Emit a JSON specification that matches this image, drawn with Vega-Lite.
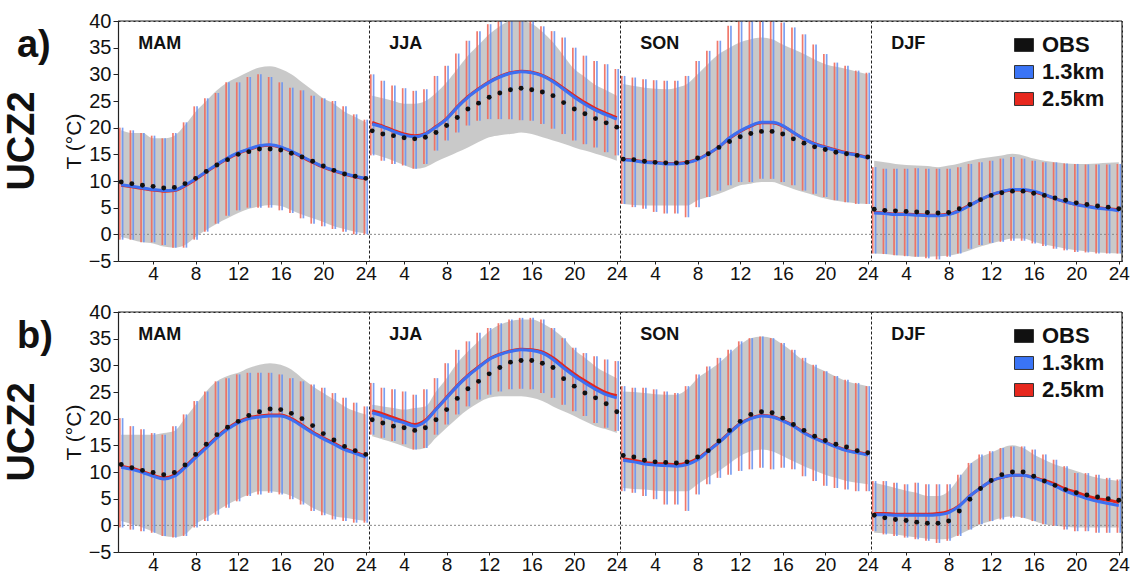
{
"$schema": "https://vega.github.io/schema/vega-lite/v6.json",
"background": "white",
"padding": {"left": 4, "top": 11, "right": 2, "bottom": 0},
"config": {
  "font": "Liberation Sans",
  "view": {"stroke": "#222222", "strokeDash": [2, 3], "strokeWidth": 1},
  "axis": {"labelFont": "Liberation Sans", "labelColor": "#111111", "domainColor": "#222222", "tickColor": "#222222", "grid": false, "titleFont": "Liberation Sans", "titleColor": "#111111", "labelOverlap": false},
  "axisY": {"labelOverlap": false, "labelSeparation": 0}
},
"datasets": {"d": [
{"p":"a)","s":"MAM","h":1,"o":9.8,"ol":-0.5,"oh":19.5,"b":9.3,"r":9.2,"ml":-1,"mh":20},
{"p":"a)","s":"MAM","h":2,"o":9.5,"ol":-1,"oh":19,"b":9.0,"r":8.9,"ml":-1,"mh":19.5},
{"p":"a)","s":"MAM","h":3,"o":9.2,"ol":-1.5,"oh":19,"b":8.7,"r":8.6,"ml":-1.5,"mh":19},
{"p":"a)","s":"MAM","h":4,"o":9.0,"ol":-1.7,"oh":18,"b":8.4,"r":8.3,"ml":-1.5,"mh":18.5},
{"p":"a)","s":"MAM","h":5,"o":8.7,"ol":-2.3,"oh":18,"b":8.2,"r":8.1,"ml":-2,"mh":18},
{"p":"a)","s":"MAM","h":6,"o":8.8,"ol":-2.5,"oh":18.5,"b":8.3,"r":8.2,"ml":-2.5,"mh":19},
{"p":"a)","s":"MAM","h":7,"o":9.5,"ol":-2,"oh":20.5,"b":9.2,"r":9.1,"ml":-2.5,"mh":21},
{"p":"a)","s":"MAM","h":8,"o":10.5,"ol":-0.5,"oh":23,"b":10.4,"r":10.3,"ml":-1,"mh":24},
{"p":"a)","s":"MAM","h":9,"o":11.8,"ol":0.8,"oh":25,"b":11.8,"r":11.7,"ml":0.5,"mh":25.5},
{"p":"a)","s":"MAM","h":10,"o":13,"ol":2,"oh":27,"b":13.1,"r":13,"ml":2,"mh":26.5},
{"p":"a)","s":"MAM","h":11,"o":14,"ol":3,"oh":28.5,"b":14.3,"r":14.2,"ml":3.5,"mh":28.5},
{"p":"a)","s":"MAM","h":12,"o":15,"ol":4,"oh":29.5,"b":15.3,"r":15.2,"ml":4.5,"mh":28.5},
{"p":"a)","s":"MAM","h":13,"o":15.5,"ol":4.8,"oh":30.5,"b":16,"r":15.9,"ml":5,"mh":29.5},
{"p":"a)","s":"MAM","h":14,"o":16,"ol":5.2,"oh":31.3,"b":16.6,"r":16.5,"ml":5,"mh":30},
{"p":"a)","s":"MAM","h":15,"o":16,"ol":5.5,"oh":31.5,"b":16.8,"r":16.7,"ml":5,"mh":29.5},
{"p":"a)","s":"MAM","h":16,"o":15.8,"ol":5.3,"oh":31,"b":16.4,"r":16.3,"ml":4.5,"mh":28.5},
{"p":"a)","s":"MAM","h":17,"o":15.2,"ol":4.5,"oh":30,"b":15.6,"r":15.5,"ml":4,"mh":27.5},
{"p":"a)","s":"MAM","h":18,"o":14.5,"ol":3.7,"oh":28.5,"b":14.6,"r":14.5,"ml":3,"mh":27},
{"p":"a)","s":"MAM","h":19,"o":13.7,"ol":3,"oh":27,"b":13.6,"r":13.5,"ml":2,"mh":26},
{"p":"a)","s":"MAM","h":20,"o":12.8,"ol":2.3,"oh":25.5,"b":12.7,"r":12.6,"ml":1.5,"mh":25.5},
{"p":"a)","s":"MAM","h":21,"o":12,"ol":1.5,"oh":24.5,"b":12,"r":11.9,"ml":1,"mh":25},
{"p":"a)","s":"MAM","h":22,"o":11.3,"ol":1,"oh":23,"b":11.4,"r":11.3,"ml":0.5,"mh":24},
{"p":"a)","s":"MAM","h":23,"o":10.9,"ol":0.5,"oh":22,"b":10.9,"r":10.8,"ml":0,"mh":22.5},
{"p":"a)","s":"MAM","h":24,"o":10.5,"ol":0.2,"oh":21,"b":10.5,"r":10.4,"ml":0,"mh":21.5},
{"p":"a)","s":"JJA","h":1,"o":19.4,"ol":15.1,"oh":26,"b":20.7,"r":21,"ml":14.8,"mh":30},
{"p":"a)","s":"JJA","h":2,"o":18.8,"ol":14.5,"oh":25.5,"b":20.1,"r":20.3,"ml":13.8,"mh":28.8},
{"p":"a)","s":"JJA","h":3,"o":18.5,"ol":13.8,"oh":25,"b":19.3,"r":19.5,"ml":13.2,"mh":27.9},
{"p":"a)","s":"JJA","h":4,"o":18.1,"ol":13,"oh":24.5,"b":18.6,"r":18.8,"ml":12.9,"mh":27.4},
{"p":"a)","s":"JJA","h":5,"o":17.9,"ol":12.3,"oh":24.5,"b":18.3,"r":18.5,"ml":12.3,"mh":26.9},
{"p":"a)","s":"JJA","h":6,"o":18.2,"ol":12.6,"oh":25,"b":18.8,"r":18.9,"ml":13.2,"mh":27.2},
{"p":"a)","s":"JJA","h":7,"o":19.1,"ol":13.6,"oh":26.5,"b":20.1,"r":20.2,"ml":15.7,"mh":29.7},
{"p":"a)","s":"JJA","h":8,"o":20.4,"ol":14.5,"oh":28.5,"b":21.6,"r":21.7,"ml":17.6,"mh":31.6},
{"p":"a)","s":"JJA","h":9,"o":21.9,"ol":15.4,"oh":31,"b":23.8,"r":23.9,"ml":19.1,"mh":33.9},
{"p":"a)","s":"JJA","h":10,"o":23.5,"ol":16.3,"oh":33.5,"b":25.7,"r":25.8,"ml":20.4,"mh":36.3},
{"p":"a)","s":"JJA","h":11,"o":24.6,"ol":17.3,"oh":35.5,"b":27.2,"r":27.3,"ml":21.3,"mh":38.1},
{"p":"a)","s":"JJA","h":12,"o":25.7,"ol":18.2,"oh":37.5,"b":28.5,"r":28.6,"ml":21.6,"mh":39.4},
{"p":"a)","s":"JJA","h":13,"o":26.5,"ol":18.6,"oh":39,"b":29.5,"r":29.6,"ml":21.6,"mh":40},
{"p":"a)","s":"JJA","h":14,"o":27.1,"ol":18.8,"oh":40,"b":30.2,"r":30.3,"ml":21.6,"mh":40},
{"p":"a)","s":"JJA","h":15,"o":27.4,"ol":19.1,"oh":40,"b":30.5,"r":30.6,"ml":21.4,"mh":40},
{"p":"a)","s":"JJA","h":16,"o":27.1,"ol":18.8,"oh":39.5,"b":30.3,"r":30.4,"ml":21.3,"mh":40},
{"p":"a)","s":"JJA","h":17,"o":26.7,"ol":18.2,"oh":38,"b":29.7,"r":29.8,"ml":20.7,"mh":39},
{"p":"a)","s":"JJA","h":18,"o":26,"ol":17.6,"oh":36,"b":28.6,"r":28.8,"ml":19.8,"mh":38.1},
{"p":"a)","s":"JJA","h":19,"o":24.7,"ol":17,"oh":33.5,"b":27.2,"r":27.4,"ml":18.8,"mh":36.9},
{"p":"a)","s":"JJA","h":20,"o":23.5,"ol":16.3,"oh":31,"b":25.7,"r":26,"ml":17.6,"mh":35},
{"p":"a)","s":"JJA","h":21,"o":22.6,"ol":15.7,"oh":29.5,"b":24.4,"r":24.7,"ml":16.9,"mh":33.5},
{"p":"a)","s":"JJA","h":22,"o":21.7,"ol":15.1,"oh":28,"b":23.3,"r":23.6,"ml":16.3,"mh":32.5},
{"p":"a)","s":"JJA","h":23,"o":20.9,"ol":14.5,"oh":27,"b":22.4,"r":22.7,"ml":15.4,"mh":31.9},
{"p":"a)","s":"JJA","h":24,"o":20.1,"ol":13.8,"oh":26,"b":21.6,"r":21.9,"ml":14.8,"mh":31},
{"p":"a)","s":"SON","h":1,"o":14.1,"ol":5.7,"oh":28.2,"b":14,"r":14.1,"ml":5.7,"mh":29.7},
{"p":"a)","s":"SON","h":2,"o":14,"ol":5.5,"oh":27.8,"b":13.8,"r":13.9,"ml":5.1,"mh":29.4},
{"p":"a)","s":"SON","h":3,"o":13.7,"ol":5.4,"oh":27.5,"b":13.5,"r":13.6,"ml":4.8,"mh":29.1},
{"p":"a)","s":"SON","h":4,"o":13.5,"ol":5.4,"oh":27.3,"b":13.4,"r":13.5,"ml":4.2,"mh":28.9},
{"p":"a)","s":"SON","h":5,"o":13.4,"ol":5.4,"oh":27.2,"b":13.2,"r":13.3,"ml":3.9,"mh":28.8},
{"p":"a)","s":"SON","h":6,"o":13.4,"ol":5.4,"oh":27.5,"b":13.2,"r":13.3,"ml":3.9,"mh":28.8},
{"p":"a)","s":"SON","h":7,"o":13.5,"ol":5.4,"oh":28.2,"b":13.4,"r":13.5,"ml":3.2,"mh":29.7},
{"p":"a)","s":"SON","h":8,"o":14.3,"ol":6.4,"oh":30,"b":14,"r":14.1,"ml":5.1,"mh":32.5},
{"p":"a)","s":"SON","h":9,"o":15.1,"ol":7,"oh":32,"b":15.1,"r":15.1,"ml":7,"mh":34.4},
{"p":"a)","s":"SON","h":10,"o":16.3,"ol":7.6,"oh":33.8,"b":16.4,"r":16.4,"ml":8.2,"mh":36.3},
{"p":"a)","s":"SON","h":11,"o":17.4,"ol":8.4,"oh":35,"b":18.1,"r":18,"ml":9.2,"mh":39.1},
{"p":"a)","s":"SON","h":12,"o":18.3,"ol":9.2,"oh":36,"b":19.4,"r":19.3,"ml":9.8,"mh":40},
{"p":"a)","s":"SON","h":13,"o":18.9,"ol":9.5,"oh":36.6,"b":20.4,"r":20.3,"ml":9.8,"mh":40},
{"p":"a)","s":"SON","h":14,"o":19.3,"ol":9.8,"oh":36.9,"b":21,"r":20.9,"ml":10.4,"mh":40},
{"p":"a)","s":"SON","h":15,"o":19.3,"ol":9.8,"oh":36.6,"b":21,"r":20.9,"ml":10.4,"mh":40},
{"p":"a)","s":"SON","h":16,"o":18.8,"ol":9.2,"oh":35.6,"b":20.4,"r":20.3,"ml":9.8,"mh":39.7},
{"p":"a)","s":"SON","h":17,"o":17.9,"ol":8.5,"oh":34.7,"b":19.1,"r":19.1,"ml":9.2,"mh":38.8},
{"p":"a)","s":"SON","h":18,"o":17.1,"ol":7.9,"oh":33.8,"b":17.9,"r":17.9,"ml":8.2,"mh":37.5},
{"p":"a)","s":"SON","h":19,"o":16.4,"ol":7.3,"oh":32.8,"b":16.9,"r":17,"ml":7.6,"mh":35.6},
{"p":"a)","s":"SON","h":20,"o":15.9,"ol":6.7,"oh":31.9,"b":16.3,"r":16.4,"ml":7,"mh":33.8},
{"p":"a)","s":"SON","h":21,"o":15.4,"ol":6.3,"oh":31.4,"b":15.7,"r":15.8,"ml":6.4,"mh":32.2},
{"p":"a)","s":"SON","h":22,"o":15.1,"ol":6,"oh":31,"b":15.2,"r":15.3,"ml":6,"mh":31.6},
{"p":"a)","s":"SON","h":23,"o":14.8,"ol":5.8,"oh":30.5,"b":14.8,"r":14.9,"ml":5.7,"mh":30.7},
{"p":"a)","s":"SON","h":24,"o":14.5,"ol":5.7,"oh":30,"b":14.3,"r":14.4,"ml":5.7,"mh":30.3},
{"p":"a)","s":"DJF","h":1,"o":4.7,"ol":-3.6,"oh":13.8,"b":4,"r":4.1,"ml":-3.6,"mh":12.6},
{"p":"a)","s":"DJF","h":2,"o":4.5,"ol":-3.7,"oh":13.5,"b":3.9,"r":4,"ml":-3.7,"mh":12.3},
{"p":"a)","s":"DJF","h":3,"o":4.4,"ol":-3.9,"oh":13.2,"b":3.7,"r":3.8,"ml":-3.9,"mh":12.3},
{"p":"a)","s":"DJF","h":4,"o":4.3,"ol":-4,"oh":13,"b":3.7,"r":3.8,"ml":-4.1,"mh":12.3},
{"p":"a)","s":"DJF","h":5,"o":4.2,"ol":-4.2,"oh":12.9,"b":3.6,"r":3.7,"ml":-4.2,"mh":12.4},
{"p":"a)","s":"DJF","h":6,"o":4.1,"ol":-4.2,"oh":12.8,"b":3.5,"r":3.6,"ml":-4.5,"mh":12.3},
{"p":"a)","s":"DJF","h":7,"o":4,"ol":-4.1,"oh":12.6,"b":3.5,"r":3.6,"ml":-4.7,"mh":12.3},
{"p":"a)","s":"DJF","h":8,"o":4.1,"ol":-4,"oh":12.9,"b":3.7,"r":3.8,"ml":-4.2,"mh":12.3},
{"p":"a)","s":"DJF","h":9,"o":4.8,"ol":-3.6,"oh":13.3,"b":4.4,"r":4.5,"ml":-3.6,"mh":12.6},
{"p":"a)","s":"DJF","h":10,"o":5.6,"ol":-3,"oh":13.8,"b":5.4,"r":5.5,"ml":-2.7,"mh":13.2},
{"p":"a)","s":"DJF","h":11,"o":6.5,"ol":-2.3,"oh":14.2,"b":6.5,"r":6.5,"ml":-2,"mh":13.5},
{"p":"a)","s":"DJF","h":12,"o":7.3,"ol":-1.7,"oh":14.5,"b":7.4,"r":7.4,"ml":-1.6,"mh":13.8},
{"p":"a)","s":"DJF","h":13,"o":7.8,"ol":-1.2,"oh":14.8,"b":8,"r":8,"ml":-1.4,"mh":14.2},
{"p":"a)","s":"DJF","h":14,"o":8.1,"ol":-0.8,"oh":15.1,"b":8.4,"r":8.3,"ml":-1.2,"mh":14.5},
{"p":"a)","s":"DJF","h":15,"o":8.1,"ol":-0.8,"oh":14.8,"b":8.4,"r":8.3,"ml":-1.2,"mh":14.2},
{"p":"a)","s":"DJF","h":16,"o":7.7,"ol":-1.4,"oh":14.2,"b":8.1,"r":8,"ml":-1.7,"mh":13.8},
{"p":"a)","s":"DJF","h":17,"o":7.3,"ol":-1.9,"oh":13.8,"b":7.5,"r":7.4,"ml":-2.2,"mh":13.5},
{"p":"a)","s":"DJF","h":18,"o":6.8,"ol":-2.3,"oh":13.5,"b":6.7,"r":6.7,"ml":-2.7,"mh":13.5},
{"p":"a)","s":"DJF","h":19,"o":6.4,"ol":-2.7,"oh":13.3,"b":6.1,"r":6.1,"ml":-3,"mh":13.3},
{"p":"a)","s":"DJF","h":20,"o":5.9,"ol":-3,"oh":13.2,"b":5.6,"r":5.6,"ml":-3.3,"mh":13.2},
{"p":"a)","s":"DJF","h":21,"o":5.6,"ol":-3.2,"oh":13.2,"b":5.2,"r":5.3,"ml":-3.4,"mh":13.1},
{"p":"a)","s":"DJF","h":22,"o":5.3,"ol":-3.4,"oh":13.3,"b":4.9,"r":5,"ml":-3.6,"mh":13.1},
{"p":"a)","s":"DJF","h":23,"o":5.1,"ol":-3.5,"oh":13.4,"b":4.7,"r":4.8,"ml":-3.6,"mh":13.1},
{"p":"a)","s":"DJF","h":24,"o":4.8,"ol":-3.6,"oh":13.5,"b":4.4,"r":4.6,"ml":-3.6,"mh":13.2},
{"p":"b)","s":"MAM","h":1,"o":11.4,"ol":0.8,"oh":17,"b":10.9,"r":11.1,"ml":-0.4,"mh":20.1},
{"p":"b)","s":"MAM","h":2,"o":10.8,"ol":0.2,"oh":17,"b":10.5,"r":10.7,"ml":-0.8,"mh":18.6},
{"p":"b)","s":"MAM","h":3,"o":10.3,"ol":-0.4,"oh":17,"b":9.9,"r":10.1,"ml":-1.1,"mh":18},
{"p":"b)","s":"MAM","h":4,"o":9.9,"ol":-1.2,"oh":17,"b":9.2,"r":9.4,"ml":-1.4,"mh":17.3},
{"p":"b)","s":"MAM","h":5,"o":9.5,"ol":-2,"oh":17.3,"b":8.7,"r":8.9,"ml":-2,"mh":17},
{"p":"b)","s":"MAM","h":6,"o":9.9,"ol":-2.2,"oh":17.7,"b":9.2,"r":9.4,"ml":-2.3,"mh":18.6},
{"p":"b)","s":"MAM","h":7,"o":11.3,"ol":-1.7,"oh":20.1,"b":10.8,"r":11,"ml":-2,"mh":20.8},
{"p":"b)","s":"MAM","h":8,"o":13.3,"ol":0.2,"oh":22.6,"b":12.7,"r":12.9,"ml":-0.4,"mh":23.3},
{"p":"b)","s":"MAM","h":9,"o":15.2,"ol":1.4,"oh":25.1,"b":14.5,"r":14.7,"ml":0.8,"mh":25.1},
{"p":"b)","s":"MAM","h":10,"o":17,"ol":2.7,"oh":27,"b":16.4,"r":16.6,"ml":2,"mh":27},
{"p":"b)","s":"MAM","h":11,"o":18.4,"ol":3.9,"oh":28,"b":18,"r":18.2,"ml":3.3,"mh":27.6},
{"p":"b)","s":"MAM","h":12,"o":19.5,"ol":4.9,"oh":28.6,"b":19.2,"r":19.4,"ml":4.5,"mh":28.3},
{"p":"b)","s":"MAM","h":13,"o":20.6,"ol":5.8,"oh":29.5,"b":20,"r":20.2,"ml":5.5,"mh":28.6},
{"p":"b)","s":"MAM","h":14,"o":21.3,"ol":6.4,"oh":30.1,"b":20.3,"r":20.5,"ml":5.8,"mh":28.6},
{"p":"b)","s":"MAM","h":15,"o":21.8,"ol":6.4,"oh":30.4,"b":20.5,"r":20.7,"ml":6.1,"mh":28.6},
{"p":"b)","s":"MAM","h":16,"o":21.7,"ol":6.1,"oh":30.1,"b":20.5,"r":20.7,"ml":5.8,"mh":28.3},
{"p":"b)","s":"MAM","h":17,"o":21,"ol":5.5,"oh":29.2,"b":19.8,"r":20,"ml":4.9,"mh":27.6},
{"p":"b)","s":"MAM","h":18,"o":20,"ol":4.5,"oh":27.6,"b":18.6,"r":18.8,"ml":3.9,"mh":27},
{"p":"b)","s":"MAM","h":19,"o":18.7,"ol":3.3,"oh":26.1,"b":17.3,"r":17.5,"ml":2.7,"mh":26.4},
{"p":"b)","s":"MAM","h":20,"o":17.2,"ol":2.4,"oh":24.8,"b":16.2,"r":16.4,"ml":1.9,"mh":25.8},
{"p":"b)","s":"MAM","h":21,"o":16,"ol":1.7,"oh":23.6,"b":15.2,"r":15.4,"ml":1.1,"mh":24.8},
{"p":"b)","s":"MAM","h":22,"o":14.8,"ol":1.4,"oh":22.3,"b":14.2,"r":14.4,"ml":0.8,"mh":23.9},
{"p":"b)","s":"MAM","h":23,"o":14,"ol":1.1,"oh":21.4,"b":13.5,"r":13.7,"ml":0.5,"mh":23},
{"p":"b)","s":"MAM","h":24,"o":13.3,"ol":0.8,"oh":20.8,"b":12.8,"r":13,"ml":0.5,"mh":22.3},
{"p":"b)","s":"JJA","h":1,"o":19.8,"ol":16.7,"oh":22.6,"b":21.1,"r":21.5,"ml":17,"mh":26.7},
{"p":"b)","s":"JJA","h":2,"o":19.2,"ol":16.1,"oh":22.3,"b":20.5,"r":20.9,"ml":16.4,"mh":25.8},
{"p":"b)","s":"JJA","h":3,"o":18.6,"ol":15.5,"oh":22,"b":19.8,"r":20.2,"ml":15.8,"mh":25.5},
{"p":"b)","s":"JJA","h":4,"o":18.3,"ol":14.8,"oh":21.7,"b":19.2,"r":19.5,"ml":15.2,"mh":25.1},
{"p":"b)","s":"JJA","h":5,"o":17.8,"ol":14.2,"oh":22,"b":18.6,"r":18.9,"ml":14.2,"mh":24.5},
{"p":"b)","s":"JJA","h":6,"o":18.3,"ol":14.5,"oh":22.3,"b":19.5,"r":19.7,"ml":14.5,"mh":25.5},
{"p":"b)","s":"JJA","h":7,"o":19.8,"ol":16.4,"oh":25.1,"b":21.7,"r":21.8,"ml":17,"mh":27.6},
{"p":"b)","s":"JJA","h":8,"o":21.7,"ol":18.3,"oh":27.6,"b":23.9,"r":24,"ml":18.9,"mh":30.4},
{"p":"b)","s":"JJA","h":9,"o":23.8,"ol":20.1,"oh":30.4,"b":26.1,"r":26.2,"ml":20.8,"mh":32.9},
{"p":"b)","s":"JJA","h":10,"o":25.6,"ol":21.7,"oh":32.6,"b":28,"r":28.1,"ml":22.3,"mh":34.5},
{"p":"b)","s":"JJA","h":11,"o":27,"ol":23,"oh":34.5,"b":29.6,"r":29.7,"ml":23.6,"mh":36.1},
{"p":"b)","s":"JJA","h":12,"o":28.4,"ol":23.9,"oh":36.4,"b":31.1,"r":31.2,"ml":24.5,"mh":37},
{"p":"b)","s":"JJA","h":13,"o":29.6,"ol":24.2,"oh":37.6,"b":32,"r":32.1,"ml":25.1,"mh":37.9},
{"p":"b)","s":"JJA","h":14,"o":30.6,"ol":24.2,"oh":38.3,"b":32.6,"r":32.7,"ml":25.5,"mh":38.6},
{"p":"b)","s":"JJA","h":15,"o":30.9,"ol":24.2,"oh":38.6,"b":32.9,"r":33,"ml":25.6,"mh":38.9},
{"p":"b)","s":"JJA","h":16,"o":30.9,"ol":23.9,"oh":38.6,"b":32.8,"r":32.9,"ml":25.5,"mh":38.9},
{"p":"b)","s":"JJA","h":17,"o":30.4,"ol":23.3,"oh":37.9,"b":32.3,"r":32.5,"ml":24.8,"mh":38.6},
{"p":"b)","s":"JJA","h":18,"o":29.6,"ol":22.3,"oh":36.7,"b":31.1,"r":31.4,"ml":23.9,"mh":37},
{"p":"b)","s":"JJA","h":19,"o":27.5,"ol":21.4,"oh":35.1,"b":29.5,"r":29.9,"ml":22.6,"mh":35.1},
{"p":"b)","s":"JJA","h":20,"o":26.1,"ol":20.5,"oh":32.9,"b":28,"r":28.4,"ml":21.4,"mh":33.3},
{"p":"b)","s":"JJA","h":21,"o":24.8,"ol":19.5,"oh":31.4,"b":26.7,"r":27.1,"ml":20.5,"mh":32.3},
{"p":"b)","s":"JJA","h":22,"o":23.9,"ol":18.6,"oh":29.8,"b":25.5,"r":25.9,"ml":19.2,"mh":31.7},
{"p":"b)","s":"JJA","h":23,"o":22.8,"ol":18,"oh":28.6,"b":24.5,"r":24.9,"ml":18.3,"mh":31.1},
{"p":"b)","s":"JJA","h":24,"o":21.3,"ol":17.3,"oh":27.6,"b":23.9,"r":24.3,"ml":17.7,"mh":30.8},
{"p":"b)","s":"SON","h":1,"o":13.1,"ol":7,"oh":25.1,"b":12.2,"r":12.5,"ml":6.4,"mh":26.1},
{"p":"b)","s":"SON","h":2,"o":12.8,"ol":6.8,"oh":25,"b":11.9,"r":12.2,"ml":6.1,"mh":25.8},
{"p":"b)","s":"SON","h":3,"o":12.2,"ol":6.7,"oh":24.8,"b":11.5,"r":11.8,"ml":5.5,"mh":25.8},
{"p":"b)","s":"SON","h":4,"o":11.9,"ol":6.5,"oh":24.6,"b":11.3,"r":11.6,"ml":4.9,"mh":25.5},
{"p":"b)","s":"SON","h":5,"o":11.8,"ol":6.4,"oh":24.5,"b":11.2,"r":11.5,"ml":3.9,"mh":25.1},
{"p":"b)","s":"SON","h":6,"o":11.7,"ol":6.4,"oh":24.5,"b":11.1,"r":11.4,"ml":3.9,"mh":24.8},
{"p":"b)","s":"SON","h":7,"o":11.9,"ol":6.4,"oh":25.5,"b":11.4,"r":11.7,"ml":2.7,"mh":26.1},
{"p":"b)","s":"SON","h":8,"o":12.8,"ol":7.7,"oh":27.6,"b":12.3,"r":12.5,"ml":5.8,"mh":28.3},
{"p":"b)","s":"SON","h":9,"o":14,"ol":9,"oh":29,"b":13.9,"r":14,"ml":7.7,"mh":29.8},
{"p":"b)","s":"SON","h":10,"o":15.8,"ol":10.2,"oh":30.4,"b":15.5,"r":15.6,"ml":8.9,"mh":31.4},
{"p":"b)","s":"SON","h":11,"o":17.8,"ol":11.6,"oh":32.2,"b":17.3,"r":17.4,"ml":9.5,"mh":32.9},
{"p":"b)","s":"SON","h":12,"o":19.5,"ol":13,"oh":33.9,"b":19,"r":19.1,"ml":10.2,"mh":34.5},
{"p":"b)","s":"SON","h":13,"o":20.8,"ol":13.9,"oh":35.1,"b":20,"r":20.1,"ml":10.5,"mh":35.1},
{"p":"b)","s":"SON","h":14,"o":21.3,"ol":14.2,"oh":35.4,"b":20.5,"r":20.6,"ml":10.8,"mh":35.4},
{"p":"b)","s":"SON","h":15,"o":21.1,"ol":13.9,"oh":35.1,"b":20.3,"r":20.4,"ml":10.5,"mh":35.1},
{"p":"b)","s":"SON","h":16,"o":20.1,"ol":13,"oh":33.9,"b":19.6,"r":19.7,"ml":10.8,"mh":34.2},
{"p":"b)","s":"SON","h":17,"o":18.9,"ol":12,"oh":32.4,"b":18.6,"r":18.7,"ml":10.5,"mh":32.9},
{"p":"b)","s":"SON","h":18,"o":17.8,"ol":11.1,"oh":30.8,"b":17.3,"r":17.4,"ml":9.2,"mh":31.4},
{"p":"b)","s":"SON","h":19,"o":16.7,"ol":10.3,"oh":29.8,"b":16.3,"r":16.4,"ml":8.3,"mh":30.1},
{"p":"b)","s":"SON","h":20,"o":15.9,"ol":9.5,"oh":28.9,"b":15.5,"r":15.6,"ml":7.4,"mh":28.9},
{"p":"b)","s":"SON","h":21,"o":15.2,"ol":8.9,"oh":27.9,"b":14.7,"r":14.8,"ml":7,"mh":28},
{"p":"b)","s":"SON","h":22,"o":14.7,"ol":8.3,"oh":27,"b":14,"r":14.1,"ml":6.7,"mh":27.3},
{"p":"b)","s":"SON","h":23,"o":14,"ol":8,"oh":26.5,"b":13.6,"r":13.7,"ml":6.4,"mh":26.7},
{"p":"b)","s":"SON","h":24,"o":13.6,"ol":7.7,"oh":26.1,"b":13.2,"r":13.3,"ml":6.4,"mh":26.1},
{"p":"b)","s":"DJF","h":1,"o":1.9,"ol":-1.4,"oh":8,"b":2,"r":2.2,"ml":-1.1,"mh":8.3},
{"p":"b)","s":"DJF","h":2,"o":1.4,"ol":-1.5,"oh":7.5,"b":2,"r":2.2,"ml":-1.7,"mh":8.3},
{"p":"b)","s":"DJF","h":3,"o":1.1,"ol":-1.7,"oh":7,"b":1.9,"r":2.1,"ml":-2,"mh":8},
{"p":"b)","s":"DJF","h":4,"o":0.9,"ol":-2,"oh":6.5,"b":1.9,"r":2.1,"ml":-2.3,"mh":7.7},
{"p":"b)","s":"DJF","h":5,"o":0.6,"ol":-2.3,"oh":6.1,"b":1.9,"r":2.1,"ml":-2.6,"mh":8},
{"p":"b)","s":"DJF","h":6,"o":0.4,"ol":-2.5,"oh":5.5,"b":1.9,"r":2.1,"ml":-2.9,"mh":7.7},
{"p":"b)","s":"DJF","h":7,"o":0.4,"ol":-2.6,"oh":5.5,"b":2,"r":2.2,"ml":-3.3,"mh":7.7},
{"p":"b)","s":"DJF","h":8,"o":0.8,"ol":-2.5,"oh":6.4,"b":2.4,"r":2.6,"ml":-2.9,"mh":7.7},
{"p":"b)","s":"DJF","h":9,"o":2.7,"ol":-1.7,"oh":8.9,"b":3.6,"r":3.7,"ml":-2,"mh":9.5},
{"p":"b)","s":"DJF","h":10,"o":4.9,"ol":-0.8,"oh":11.4,"b":5.5,"r":5.5,"ml":-0.8,"mh":11.7},
{"p":"b)","s":"DJF","h":11,"o":6.9,"ol":0.2,"oh":12.8,"b":7,"r":7,"ml":0.2,"mh":13.3},
{"p":"b)","s":"DJF","h":12,"o":8.4,"ol":0.8,"oh":13.6,"b":8.3,"r":8.3,"ml":0.8,"mh":13.9},
{"p":"b)","s":"DJF","h":13,"o":9.5,"ol":1.4,"oh":14.5,"b":9,"r":9,"ml":1.1,"mh":14.5},
{"p":"b)","s":"DJF","h":14,"o":10,"ol":1.7,"oh":15,"b":9.4,"r":9.4,"ml":1.4,"mh":14.8},
{"p":"b)","s":"DJF","h":15,"o":10,"ol":1.4,"oh":14.5,"b":9.4,"r":9.4,"ml":1.4,"mh":14.8},
{"p":"b)","s":"DJF","h":16,"o":9.2,"ol":0.8,"oh":13.3,"b":8.9,"r":9,"ml":0.8,"mh":14.2},
{"p":"b)","s":"DJF","h":17,"o":8.3,"ol":0.2,"oh":12.3,"b":8.2,"r":8.4,"ml":0.2,"mh":13.3},
{"p":"b)","s":"DJF","h":18,"o":7.5,"ol":-0.1,"oh":11.4,"b":7.4,"r":7.7,"ml":-0.1,"mh":12.3},
{"p":"b)","s":"DJF","h":19,"o":6.7,"ol":-0.3,"oh":10.8,"b":6.4,"r":6.8,"ml":-0.8,"mh":11.1},
{"p":"b)","s":"DJF","h":20,"o":6.1,"ol":-0.4,"oh":10.2,"b":5.7,"r":6.2,"ml":-1.1,"mh":9.8},
{"p":"b)","s":"DJF","h":21,"o":5.7,"ol":-0.4,"oh":9.5,"b":5,"r":5.5,"ml":-1.1,"mh":9.8},
{"p":"b)","s":"DJF","h":22,"o":5.3,"ol":-0.4,"oh":8.9,"b":4.5,"r":5,"ml":-1.4,"mh":9.5},
{"p":"b)","s":"DJF","h":23,"o":5,"ol":-0.4,"oh":8.6,"b":4.1,"r":4.7,"ml":-1.4,"mh":8.9},
{"p":"b)","s":"DJF","h":24,"o":4.7,"ol":-0.4,"oh":8.3,"b":3.7,"r":4.3,"ml":-1.4,"mh":8.6}
]},
"spacing": 19,
"resolve": {"scale": {"fill": "independent"}, "legend": {"fill": "independent"}},
"vconcat": [
{
 "data": {"name": "d"},
 "transform": [{"filter": "datum.p == 'a)'"}],
 "bounds": "flush",
 "facet": {
   "row": {"field": "p", "type": "nominal", "title": null, "header": {"labelExpr": "'UCZ2'", "labelFont": "Liberation Sans", "labelFontSize": 38, "labelFontWeight": "bold", "labelAngle": -90, "labelPadding": 2, "labelColor": "#111111"}},
   "column": {"field": "s", "type": "nominal", "sort": ["MAM", "JJA", "SON", "DJF"], "title": null, "header": {"labels": false, "title": null}}
 },
 "spacing": {"row": 0, "column": 0},
 "spec": {
  "width": 251, "height": 240,
  "layer": [
   {"mark": {"type": "area", "color": "#c6c6c6", "opacity": 0.95, "interpolate": "monotone"},
    "encoding": {
     "x": {"field": "h", "type": "quantitative", "scale": {"domain": [0.7, 24.3], "nice": false, "zero": false}, "axis": {"values": [4, 8, 12, 16, 20, 24], "title": null, "labelFontSize": 19, "labelFlush": false, "labelOverlap": false, "tickSize": 3, "labelPadding": 0, "domainWidth": 1.2}},
     "y": {"field": "ol", "type": "quantitative", "scale": {"domain": [-5, 40], "nice": false, "zero": false}, "axis": {"tickCount": 9, "title": "T (°C)", "titleFontSize": 21, "titleFontWeight": "normal", "titlePadding": 4, "labelFontSize": 20, "labelOverlap": false, "labelSeparation": 0, "tickSize": 5, "labelPadding": 2, "domainWidth": 1.2}},
     "y2": {"field": "oh"}}},
   {"transform": [{"filter": "datum.h == 1"}], "mark": {"type": "rule", "color": "#888888", "strokeDash": [2, 2], "strokeWidth": 1}, "encoding": {"y": {"datum": 0}}},
   {"mark": {"type": "rule", "color": "#ef6a5c", "strokeWidth": 1.7, "xOffset": -1.4, "opacity": 0.9}, "encoding": {"x": {"field": "h", "type": "quantitative"}, "y": {"field": "ml", "type": "quantitative"}, "y2": {"field": "mh"}}},
   {"mark": {"type": "rule", "color": "#6d95f0", "strokeWidth": 1.7, "xOffset": 1.4, "opacity": 0.9}, "encoding": {"x": {"field": "h", "type": "quantitative"}, "y": {"field": "ml", "type": "quantitative"}, "y2": {"field": "mh"}}},
   {"mark": {"type": "line", "color": "#e3261c", "strokeWidth": 3, "interpolate": "monotone"}, "encoding": {"x": {"field": "h", "type": "quantitative"}, "y": {"field": "r", "type": "quantitative"}}},
   {"mark": {"type": "line", "color": "#3d6ff2", "strokeWidth": 3, "interpolate": "monotone"}, "encoding": {"x": {"field": "h", "type": "quantitative"}, "y": {"field": "b", "type": "quantitative"}}},
   {"mark": {"type": "point", "shape": "circle", "filled": true, "size": 24, "opacity": 1, "strokeWidth": 0},
    "encoding": {"x": {"field": "h", "type": "quantitative"}, "y": {"field": "o", "type": "quantitative"},
     "fill": {"datum": "OBS", "type": "nominal", "scale": {"domain": ["OBS", "1.3km", "2.5km"], "range": ["#111111", "#3a74f6", "#e8281e"]},
      "legend": {"title": null, "orient": "none", "legendX": 895, "legendY": 13, "symbolType": "M-1,-0.68H1V0.68H-1Z", "symbolSize": 361, "symbolStrokeColor": "#333333", "symbolStrokeWidth": 1, "symbolOpacity": 1, "labelFont": "Liberation Sans", "labelFontSize": 22, "labelFontWeight": "bold", "labelColor": "#111111", "labelOffset": 7, "rowPadding": 5}}}},
   {"transform": [{"filter": "datum.h == 1"}], "mark": {"type": "text", "align": "left", "baseline": "middle", "fontSize": 18, "fontWeight": "bold", "color": "#111111"}, "encoding": {"x": {"datum": 2.6}, "y": {"datum": 35.7}, "text": {"field": "s"}}},
   {"transform": [{"filter": "datum.h == 1 && datum.s == 'MAM'"}], "mark": {"type": "text", "align": "left", "baseline": "middle", "fontSize": 38, "fontWeight": "bold", "color": "#111111"}, "encoding": {"x": {"datum": -8.8}, "y": {"datum": 35.4}, "text": {"field": "p"}}},
   {"transform": [{"filter": "datum.h == 1"}], "mark": {"type": "rule", "color": "#222222", "strokeWidth": 1.2}, "encoding": {"y": {"datum": 40}}},
   {"transform": [{"filter": "datum.h == 1 && datum.s == 'DJF'"}], "mark": {"type": "rule", "color": "#222222", "strokeWidth": 1.2}, "encoding": {"x": {"datum": 24.3}}}
  ]
 }
},
{
 "data": {"name": "d"},
 "transform": [{"filter": "datum.p == 'b)'"}],
 "bounds": "flush",
 "facet": {
   "row": {"field": "p", "type": "nominal", "title": null, "header": {"labelExpr": "'UCZ2'", "labelFont": "Liberation Sans", "labelFontSize": 38, "labelFontWeight": "bold", "labelAngle": -90, "labelPadding": 2, "labelColor": "#111111"}},
   "column": {"field": "s", "type": "nominal", "sort": ["MAM", "JJA", "SON", "DJF"], "title": null, "header": {"labels": false, "title": null}}
 },
 "spacing": {"row": 0, "column": 0},
 "spec": {
  "width": 251, "height": 240,
  "layer": [
   {"mark": {"type": "area", "color": "#c6c6c6", "opacity": 0.95, "interpolate": "monotone"},
    "encoding": {
     "x": {"field": "h", "type": "quantitative", "scale": {"domain": [0.7, 24.3], "nice": false, "zero": false}, "axis": {"values": [4, 8, 12, 16, 20, 24], "title": null, "labelFontSize": 19, "labelFlush": false, "labelOverlap": false, "tickSize": 3, "labelPadding": 0, "domainWidth": 1.2}},
     "y": {"field": "ol", "type": "quantitative", "scale": {"domain": [-5, 40], "nice": false, "zero": false}, "axis": {"tickCount": 9, "title": "T (°C)", "titleFontSize": 21, "titleFontWeight": "normal", "titlePadding": 4, "labelFontSize": 20, "labelOverlap": false, "labelSeparation": 0, "tickSize": 5, "labelPadding": 2, "domainWidth": 1.2}},
     "y2": {"field": "oh"}}},
   {"transform": [{"filter": "datum.h == 1"}], "mark": {"type": "rule", "color": "#888888", "strokeDash": [2, 2], "strokeWidth": 1}, "encoding": {"y": {"datum": 0}}},
   {"mark": {"type": "rule", "color": "#ef6a5c", "strokeWidth": 1.7, "xOffset": -1.4, "opacity": 0.9}, "encoding": {"x": {"field": "h", "type": "quantitative"}, "y": {"field": "ml", "type": "quantitative"}, "y2": {"field": "mh"}}},
   {"mark": {"type": "rule", "color": "#6d95f0", "strokeWidth": 1.7, "xOffset": 1.4, "opacity": 0.9}, "encoding": {"x": {"field": "h", "type": "quantitative"}, "y": {"field": "ml", "type": "quantitative"}, "y2": {"field": "mh"}}},
   {"mark": {"type": "line", "color": "#e3261c", "strokeWidth": 3, "interpolate": "monotone"}, "encoding": {"x": {"field": "h", "type": "quantitative"}, "y": {"field": "r", "type": "quantitative"}}},
   {"mark": {"type": "line", "color": "#3d6ff2", "strokeWidth": 3, "interpolate": "monotone"}, "encoding": {"x": {"field": "h", "type": "quantitative"}, "y": {"field": "b", "type": "quantitative"}}},
   {"mark": {"type": "point", "shape": "circle", "filled": true, "size": 24, "opacity": 1, "strokeWidth": 0},
    "encoding": {"x": {"field": "h", "type": "quantitative"}, "y": {"field": "o", "type": "quantitative"},
     "fill": {"datum": "OBS", "type": "nominal", "scale": {"domain": ["OBS", "1.3km", "2.5km"], "range": ["#111111", "#3a74f6", "#e8281e"]},
      "legend": {"title": null, "orient": "none", "legendX": 895, "legendY": 13, "symbolType": "M-1,-0.68H1V0.68H-1Z", "symbolSize": 361, "symbolStrokeColor": "#333333", "symbolStrokeWidth": 1, "symbolOpacity": 1, "labelFont": "Liberation Sans", "labelFontSize": 22, "labelFontWeight": "bold", "labelColor": "#111111", "labelOffset": 7, "rowPadding": 5}}}},
   {"transform": [{"filter": "datum.h == 1"}], "mark": {"type": "text", "align": "left", "baseline": "middle", "fontSize": 18, "fontWeight": "bold", "color": "#111111"}, "encoding": {"x": {"datum": 2.6}, "y": {"datum": 35.7}, "text": {"field": "s"}}},
   {"transform": [{"filter": "datum.h == 1 && datum.s == 'MAM'"}], "mark": {"type": "text", "align": "left", "baseline": "middle", "fontSize": 38, "fontWeight": "bold", "color": "#111111"}, "encoding": {"x": {"datum": -8.8}, "y": {"datum": 35.4}, "text": {"field": "p"}}},
   {"transform": [{"filter": "datum.h == 1"}], "mark": {"type": "rule", "color": "#222222", "strokeWidth": 1.2}, "encoding": {"y": {"datum": 40}}},
   {"transform": [{"filter": "datum.h == 1 && datum.s == 'DJF'"}], "mark": {"type": "rule", "color": "#222222", "strokeWidth": 1.2}, "encoding": {"x": {"datum": 24.3}}}
  ]
 }
}
]
}
